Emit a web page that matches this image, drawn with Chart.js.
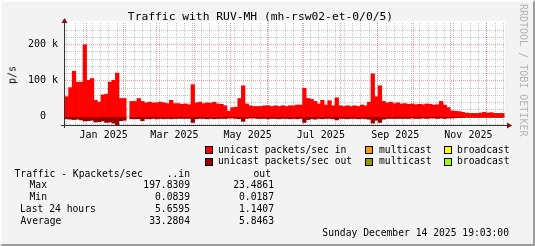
<!DOCTYPE html>
<html><head><meta charset="utf-8">
<script src="https://cdn.jsdelivr.net/npm/chart.js@4.4.1/dist/chart.umd.min.js"></script>
<style>
html,body{margin:0;padding:0;background:#f3f3f3;}
#wrap{position:relative;width:535px;height:246px;background:#f3f3f3;overflow:hidden;font-family:"DejaVu Sans Mono",monospace;color:#000;}
#frame{position:absolute;left:0;top:0;width:535px;height:246px;box-sizing:border-box;border-top:2px solid #fcfcfc;border-left:2px solid #fcfcfc;border-right:2px solid #9c9c9c;border-bottom:2px solid #9c9c9c;pointer-events:none;}
canvas{position:absolute;left:0;top:0;}
.t{position:absolute;white-space:pre;font-size:9.7px;line-height:12px;}
.r{text-align:right;}
.sq{position:absolute;width:6px;height:6px;border:1px solid #000;}
#title{position:absolute;left:0;width:521px;top:11px;text-align:center;font-size:11.3px;line-height:12px;white-space:pre;}
#side{position:absolute;left:518px;top:4px;writing-mode:vertical-rl;font-size:10px;color:#b4b4b4;white-space:pre;}
#ylab{position:absolute;left:12px;top:75px;transform:translate(-50%,-50%) rotate(-90deg);font-size:10px;white-space:pre;}
</style>
</head><body>
<div id="wrap">
<canvas id="c" width="535" height="246"></canvas>
<div id="title"></div>
<div id="side"></div>
<div id="ylab"></div>
<div id="texts"></div>
<div id="frame"></div>
</div>
<script>
// ---------- data (Kpackets/sec, one value per 3-day step starting Dec 14 2024) ----------
const startDate = Date.UTC(2024, 11, 14, 19, 3);
const stepDays = 3;
const inKpps = [
 55, 80,125, 95, 95,198,100,105, 45, 40,
 60, 62, 95,100,120, 50, 50,null, 42, 42,
 50, 42, 38, 40, 38, 38, 40, 38, 36, 45,
 36, 36, 34, 35, 33, 88, 38, 40, 36, 38,
 37, 40, 35, 34, 30, 15, 25, 26, 50, 85,
 35, 30, 28, 28, 28, 30, 30, 28, 30, 28,
 30, 28, 30, 30, 32, 32, 78, 50, 48, 42,
 35, 45, 32, 44, 30, 52, 30, 28, 30, 28,
 30, 28, 32, 30, 40,118, 55, 85, 42, 38,
 40, 36, 38, 35, 36, 34, 35, 33, 34, 33,
 35, 34, 32, 33, 42, 32, 25, 16, 15, 14,
 12, 10,  9,  9,  9, 10, 12, 10, 11,  9,
  9,  9
];
const outKpps = [
 -6, -7, -8, -7, -9,-12,-11,-10,-15,-14,
-12,-16,-15,-18,-23,-11,-10,null, -6, -6,
 -6,-11, -6, -6, -5, -6, -5, -6, -5, -6,
 -5, -5, -5, -5, -5,-16, -6, -5, -5, -6,
 -5, -6, -5, -5, -5, -4, -4, -5, -6,-13,
 -5, -4, -4, -5, -5, -5, -6, -5, -5, -6,
 -5, -5, -6, -5, -6, -5,-16, -8, -6, -7,
 -5, -6, -5, -5, -6, -9, -5, -5, -6, -5,
 -5, -6, -5, -6, -7,-18,-10,-16, -7, -5,
 -5, -5, -5, -5, -5, -5, -4, -5, -5, -4,
 -5, -4, -4, -5, -4, -5, -4, -4, -3,-2.5,
-2.5,-2, -2, -2, -2, -2, -2, -2, -2, -2,
 -2, -2
];
const tickLabels = ['Jan 2025','Mar 2025','May 2025','Jul 2025','Sep 2025','Nov 2025'];
const tickMonths = [[2025,0],[2025,2],[2025,4],[2025,6],[2025,8],[2025,10]];
const yTicks = [0, 100, 200];
const legendNames = ['unicast packets/sec in','multicast','broadcast','unicast packets/sec out','multicast','broadcast'];
const statNames = ['Max','Min','Last 24 hours','Average'];
const statIn = ['197.8309','0.0839','5.6595','33.2804'];
const statOut = ['23.4861','0.0187','1.1407','5.8463'];
const titleText = 'Traffic with RUV-MH (mh-rsw02-et-0/0/5)';
const dateText = 'Sunday December 14 2025 19:03:00';

// ---------- config ----------
const legendColors = ['#ff0000','#ff9900','#ffff00','#990000','#999900','#99ff00'];
const yMin = -23, yMax = 258, xMax = 366.7;
const dayOf = (y,m,d) => (Date.UTC(y,m,d) - startDate) / 864e5;
const labelDays = tickMonths.map(([y,m]) => dayOf(y,m,1) + 15);

const monthLines = [];
for (let k = 0; k < 14; k++) { const d = dayOf(2024, 11 + k, 1); if (d > 0 && d < xMax) monthLines.push(d); }
const weekLines = [];
for (let d = dayOf(2024,11,16); d < xMax; d += 7) weekLines.push(d);

const inData = inKpps.map((v,i) => ({x: i*stepDays + stepDays/2, y: v}));
const outData = outKpps.map((v,i) => ({x: i*stepDays + stepDays/2, y: v}));

const bgPlugin = {
  id:'bg',
  beforeDraw(chart){
    const {ctx, chartArea:a} = chart;
    ctx.save(); ctx.fillStyle='#ffffff'; ctx.fillRect(a.left, a.top-2, a.right-a.left, a.bottom-a.top+2); ctx.restore();
  },
  beforeDatasetsDraw(chart){
    const {ctx, chartArea:a, scales:{x,y}} = chart;
    ctx.save(); ctx.lineWidth=1; ctx.setLineDash([1,1]);
    const vline = (d,col)=>{ const px=Math.round(x.getPixelForValue(d))+0.5; ctx.strokeStyle=col; ctx.beginPath(); ctx.moveTo(px,a.top); ctx.lineTo(px,a.bottom); ctx.stroke(); };
    const hline = (v,col)=>{ const py=Math.round(y.getPixelForValue(v))+0.5; ctx.strokeStyle=col; ctx.beginPath(); ctx.moveTo(a.left,py); ctx.lineTo(a.right,py); ctx.stroke(); };
    weekLines.forEach(d=>vline(d,'rgba(150,150,150,0.55)'));
    for (let v=-20; v<=yMax; v+=20) if (v%100!==0) hline(v,'rgba(150,150,150,0.55)');
    monthLines.forEach(d=>vline(d,'rgba(240,90,90,0.6)'));
    for (let v=0; v<=yMax; v+=100) hline(v,'rgba(240,90,90,0.6)');
    ctx.restore();
  },
  afterDatasetsDraw(chart){
    const {ctx, chartArea:a} = chart;
    ctx.save(); ctx.lineWidth=1; ctx.strokeStyle='#333'; ctx.setLineDash([]);
    const ax = a.left - 0.5, ay = a.bottom + 0.5;
    ctx.beginPath(); ctx.moveTo(ax, a.bottom+3); ctx.lineTo(ax, a.top-2); ctx.stroke();
    ctx.beginPath(); ctx.moveTo(a.left-4, ay); ctx.lineTo(a.right+3, ay); ctx.stroke();
    ctx.fillStyle='#7f1010';
    ctx.beginPath(); ctx.moveTo(ax, a.top-5); ctx.lineTo(ax-3, a.top); ctx.lineTo(ax+3, a.top); ctx.closePath(); ctx.fill();
    ctx.beginPath(); ctx.moveTo(a.right+7, ay); ctx.lineTo(a.right+2, ay-3); ctx.lineTo(a.right+2, ay+3); ctx.closePath(); ctx.fill();
    ctx.restore();
  }
};

const tickFont = {family:'DejaVu Sans Mono', size:10};
new Chart(document.getElementById('c'), {
  type:'bar',
  data:{datasets:[
    {label:legendNames[0], data:inData, backgroundColor:legendColors[0], borderWidth:0, grouped:false, barPercentage:1, categoryPercentage:1},
    {label:legendNames[3], data:outData, backgroundColor:legendColors[3], borderWidth:0, grouped:false, barPercentage:1, categoryPercentage:1}
  ]},
  options:{
    responsive:false, animation:false, devicePixelRatio:1,
    layout:{padding:{left:0, top:23, right:30, bottom:101}},
    plugins:{legend:{display:false}, tooltip:{enabled:false}},
    scales:{
      x:{type:'linear', min:0, max:xMax, offset:false,
         grid:{display:false, drawTicks:false}, border:{display:false},
         afterBuildTicks:s=>{ s.ticks = labelDays.map(v=>({value:v})); },
         afterFit:s=>{ s.height = 20; },
         ticks:{autoSkip:false, maxRotation:0, minRotation:0, padding:4, font:tickFont, color:'#000', callback:(v,i)=>tickLabels[i]}},
      y:{type:'linear', min:yMin, max:yMax,
         grid:{display:false, drawTicks:false}, border:{display:false},
         afterBuildTicks:s=>{ s.ticks = yTicks.map(v=>({value:v})); },
         afterFit:s=>{ s.width = 65; },
         ticks:{padding:7, font:tickFont, color:'#000', callback:v => v===0 ? '0  ' : v+' k'}}
    }
  },
  plugins:[bgPlugin]
});

// ---------- texts ----------
document.getElementById('title').textContent = titleText;
document.getElementById('side').textContent = 'RRDTOOL / TOBI OETIKER';
document.getElementById('ylab').textContent = 'p/s';
const T = document.getElementById('texts');
function addText(txt, x, cy, right){
  const d = document.createElement('div'); d.className='t'+(right?' r':''); d.textContent = txt;
  if (right) { d.style.right = (535 - x) + 'px'; } else { d.style.left = x + 'px'; }
  d.style.top = (cy - 6.5) + 'px'; T.appendChild(d); return d;
}
function addSq(x, y, col){ const s=document.createElement('div'); s.className='sq'; s.style.left=x+'px'; s.style.top=y+'px'; s.style.background=col; T.appendChild(s); }
const lgX = [[205,218],[365,379],[444,457]];
const lgY = [150,161.5];
legendNames.forEach((n,i)=>{ const r=Math.floor(i/3), c=i%3; addSq(lgX[c][0], lgY[r]-4, legendColors[i]); addText(n, lgX[c][1], lgY[r]); });
addText('Traffic - Kpackets/sec', 14.5, 174);
addText('..in', 190, 174, true);
addText('out', 271, 174, true);
const statX = [29.5, 29.5, 20, 20.5];
const statY = [185.7, 197.4, 209.3, 221.5];
statNames.forEach((n,i)=>{ addText(n, statX[i], statY[i]); addText(statIn[i], 190, statY[i], true); addText(statOut[i], 274, statY[i], true); });
addText(dateText, 509, 233.3, true);
</script>
</body></html>
